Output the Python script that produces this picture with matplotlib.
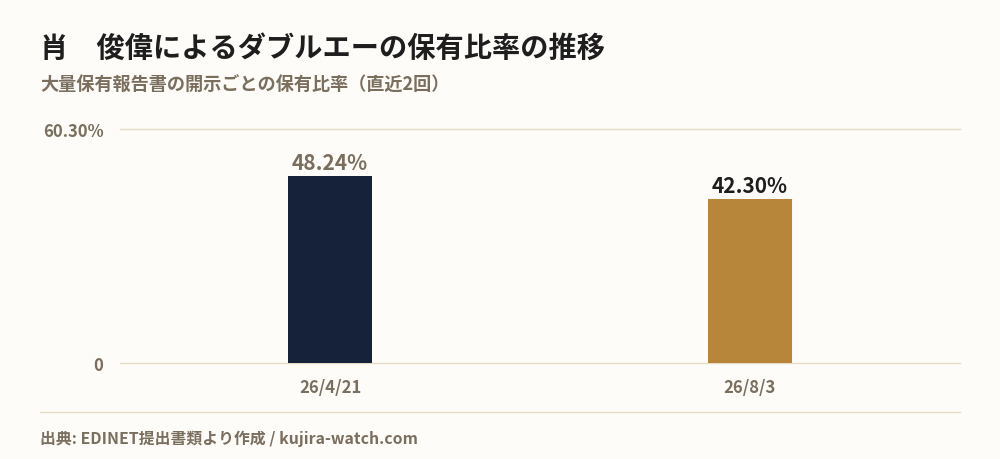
import matplotlib
matplotlib.use('Agg')
from matplotlib import pyplot as plt

dates = ['26/4/21', '26/8/3']
ratios = [48.24, 42.30]
ymax = 60.30
bar_colors = ['#16223a', '#b8863a']
label_colors = ['#7a6e5e', '#1e1e1e']

bg = '#fdfcf8'
txt = '#7a6e5e'
gridc = '#e6dcc6'

plt.rcParams['font.family'] = ['Noto Sans CJK JP', 'DejaVu Sans']
plt.rcParams['font.weight'] = 'bold'

fig = plt.figure(figsize=(10, 4.6), dpi=100, facecolor=bg)
ax = fig.add_axes([0.12, 0.2087, 0.84, 0.5087])
ax.set_facecolor(bg)

xs = list(range(len(dates)))
bars = ax.bar(xs, ratios, width=0.2, color=bar_colors, zorder=3)
for x, v, c in zip(xs, ratios, label_colors):
    ax.text(x, v + 0.7, '%.2f%%' % v, ha='center', va='bottom',
            fontsize=15, fontweight='bold', color=c)

ax.set_xlim(-0.5, 1.5)
ax.set_ylim(0, ymax)
ax.set_yticks([0, ymax])
ax.set_yticklabels(['0', '%.2f%%' % ymax])
ax.set_xticks(xs)
ax.set_xticklabels(dates)
ax.tick_params(axis='both', length=0, labelsize=12, colors=txt)
ax.tick_params(axis='x', pad=11)
ax.tick_params(axis='y', pad=12)
for t in ax.get_xticklabels() + ax.get_yticklabels():
    t.set_fontweight('bold')
ax.grid(axis='y', color=gridc, linewidth=1, zorder=0)
for gl in ax.get_ygridlines():
    gl.set_clip_on(False)
for s in ax.spines.values():
    s.set_visible(False)

fig.text(0.04, 0.893, '肖\u3000俊偉によるダブルエーの保有比率の推移', fontsize=20.3,
         fontweight='bold', color='#1e1e1e', va='center')
fig.text(0.04, 0.815, '大量保有報告書の開示ごとの保有比率（直近2回）', fontsize=13.1,
         fontweight='bold', color=txt, va='center')

fig.add_artist(plt.Line2D([0.04, 0.96], [0.102, 0.102], color=gridc, linewidth=1))
fig.text(0.04, 0.047, '出典: EDINET提出書類より作成 / kujira-watch.com', fontsize=11.4,
         fontweight='bold', color=txt, va='center')

fig.savefig('out.png', dpi=100, facecolor=bg)
